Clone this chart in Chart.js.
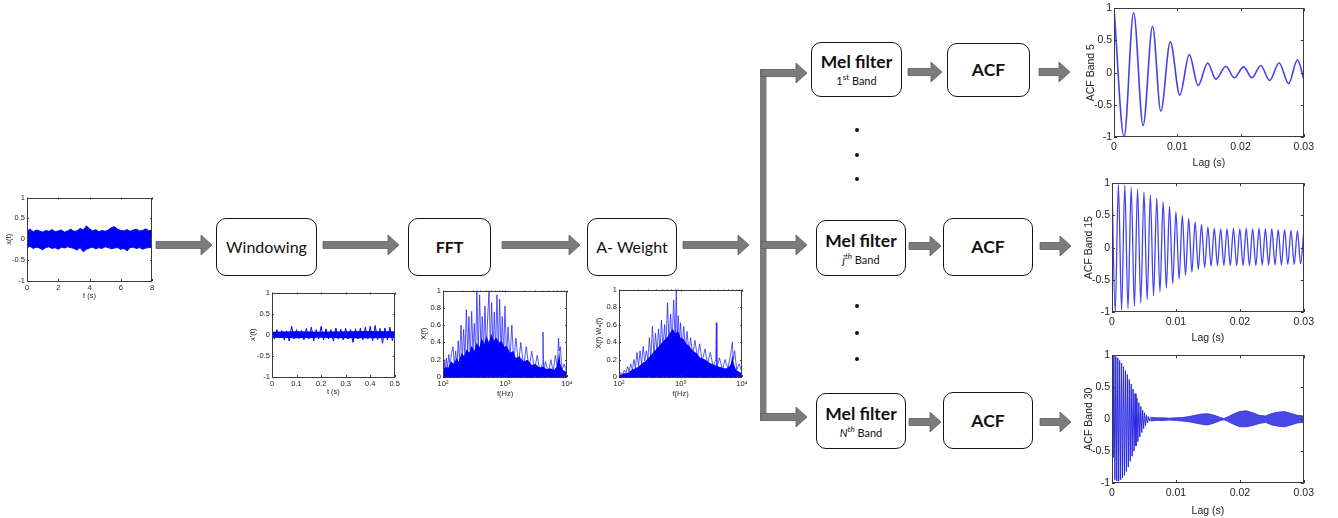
<!DOCTYPE html>
<html>
<head>
<meta charset="utf-8">
<script src="https://cdn.jsdelivr.net/npm/chart.js@4.4.0/dist/chart.umd.min.js"></script>
<style>
  body { margin: 0; width: 1338px; height: 518px; background: #fff; position: relative; overflow: hidden; }
  canvas { position: absolute; }
  svg { position: absolute; left: 0; top: 0; }
  .box {
    position: absolute; box-sizing: border-box; background: #fff;
    border: 1.6px solid #151515; border-radius: 10px;
    display: flex; flex-direction: column; align-items: center; justify-content: center;
    font-family: Lato, "Open Sans", sans-serif; color: #111; font-size: 16px; line-height: 1.1;
  }
  .box b { font-size: 17.5px; }
  .box small { font-size: 11px; margin-top: 2px; }
  .box sup { font-size: 8px; }
</style>
</head>
<body>

<svg id="diagram" width="1338" height="518"></svg>

<div class="box" style="left:216px;top:218px;width:101px;height:58px">Windowing</div>
<div class="box" style="left:408px;top:218px;width:83px;height:58px"><b style="font-size:16px">FFT</b></div>
<div class="box" style="left:587px;top:218px;width:90px;height:58px">A- Weight</div>

<div class="box" style="left:811px;top:42px;width:91px;height:55px"><b>Mel filter</b><small>1<sup>st</sup> Band</small></div>
<div class="box" style="left:947px;top:43px;width:83px;height:54px"><b>ACF</b></div>
<div class="box" style="left:816px;top:220px;width:90px;height:56px"><b>Mel filter</b><small><i>j</i><sup><i>th</i></sup> Band</small></div>
<div class="box" style="left:943px;top:218px;width:90px;height:58px"><b>ACF</b></div>
<div class="box" style="left:816px;top:393px;width:90px;height:56px"><b>Mel filter</b><small><i>N</i><sup><i>th</i></sup> Band</small></div>
<div class="box" style="left:943px;top:392px;width:90px;height:57px"><b>ACF</b></div>

<script>
// ---- input signal x(t), 0..8 s (band envelope) ----
const inputT = [0,0.2,0.4,0.6,0.8,1,1.2,1.4,1.6,1.8,2,2.2,2.4,2.6,2.8,3,3.2,3.4,3.6,3.8,4,
                4.2,4.4,4.6,4.8,5,5.2,5.4,5.6,5.8,6,6.2,6.4,6.6,6.8,7,7.2,7.4,7.6,7.8,8];
const inputUpper = [0.2,0.24,0.18,0.22,0.2,0.17,0.21,0.19,0.23,0.18,0.2,0.22,0.17,0.2,0.24,0.19,0.2,0.26,0.22,0.32,0.25,
                    0.2,0.23,0.18,0.21,0.19,0.22,0.28,0.3,0.24,0.21,0.2,0.23,0.19,0.22,0.24,0.2,0.21,0.25,0.2,0.22];
const inputLower = [-0.2,-0.17,-0.22,-0.19,-0.21,-0.25,-0.2,-0.18,-0.22,-0.2,-0.24,-0.19,-0.21,-0.18,-0.2,-0.22,-0.26,-0.2,-0.3,-0.24,-0.21,
                    -0.19,-0.23,-0.2,-0.22,-0.18,-0.2,-0.23,-0.21,-0.2,-0.24,-0.22,-0.28,-0.2,-0.19,-0.22,-0.2,-0.24,-0.21,-0.2,-0.19];

// ---- windowed frame x'(t), 0..0.5 s ----
const winT = [0,0.01,0.02,0.03,0.04,0.05,0.06,0.07,0.08,0.09,0.1,0.11,0.12,0.13,0.14,0.15,0.16,0.17,0.18,0.19,0.2,
              0.21,0.22,0.23,0.24,0.25,0.26,0.27,0.28,0.29,0.3,0.31,0.32,0.33,0.34,0.35,0.36,0.37,0.38,0.39,0.4,
              0.41,0.42,0.43,0.44,0.45,0.46,0.47,0.48,0.49,0.5];
const winVal = [0.08,-0.1,0.12,-0.08,0.1,-0.12,0.09,-0.15,0.2,-0.1,0.12,-0.09,0.1,-0.12,0.15,-0.1,0.18,-0.14,0.12,-0.1,
                0.2,-0.12,0.14,-0.1,0.12,-0.15,0.16,-0.1,0.13,-0.12,0.15,-0.1,0.12,-0.18,0.14,-0.1,0.16,-0.12,0.18,-0.1,
                0.2,-0.14,0.22,-0.12,0.15,-0.2,0.16,-0.12,0.18,-0.14,0.12];
const winCoreT = [0,0.1,0.2,0.3,0.4,0.5];
const winCoreUpper = [0.07,0.08,0.07,0.08,0.09,0.08];
const winCoreLower = [-0.07,-0.08,-0.07,-0.08,-0.08,-0.07];

// ---- spectrum X(f) ----
const fftFreq = [100,104,108,113,118,124,130,137,145,152,160,168,176,185,195,205,215,226,238,250,262,275,290,305,320,336,
                 352,370,390,410,430,452,475,500,525,552,580,610,640,672,706,742,780,820,862,905,950,1000,1060,1120,1200,
                 1290,1380,1500,1650,1800,2000,2200,2450,2700,3000,3300,3700,4000,4100,4200,4500,5000,5500,6000,6500,7000,
                 7300,7500,7800,8300,9000,10000];
const fftAmp = [0.1,0.2,0.08,0.22,0.1,0.26,0.12,0.28,0.35,0.14,0.3,0.12,0.42,0.18,0.6,0.2,0.55,0.22,0.78,0.25,0.7,0.2,
                0.76,0.3,0.62,0.25,1,0.3,0.95,0.28,0.7,0.32,0.82,0.3,0.68,1,0.35,0.86,0.3,0.75,0.32,0.95,0.3,0.9,0.28,0.7,
                0.25,0.82,0.22,0.58,0.2,0.6,0.18,0.45,0.15,0.4,0.12,0.35,0.1,0.3,0.08,0.25,0.06,0.15,0.52,0.05,0.18,0.05,
                0.2,0.06,0.25,0.1,0.45,0.3,0.35,0.08,0.15,0.05];
const fftCoreFreq = [100,110,120,135,150,165,180,200,220,240,265,290,320,350,385,420,460,500,550,600,660,720,800,880,970,
                     1070,1200,1350,1500,1700,2000,2300,2700,3100,3600,4100,4700,5400,6200,6800,7200,7500,7800,8500,9300,10000];
const fftCoreAmp = [0.08,0.12,0.1,0.18,0.15,0.22,0.18,0.28,0.24,0.32,0.28,0.36,0.3,0.4,0.34,0.45,0.38,0.48,0.4,0.5,0.42,
                    0.46,0.4,0.42,0.35,0.36,0.28,0.3,0.22,0.24,0.18,0.2,0.14,0.15,0.11,0.12,0.09,0.1,0.08,0.12,0.2,0.3,
                    0.15,0.08,0.07,0.05];

// ---- A-weighted spectrum X(f) W_A(f) ----
const awFreq = [100,108,115,122,130,138,146,155,165,175,185,196,208,220,233,247,262,278,295,312,330,350,370,392,415,440,
                465,490,520,550,580,615,650,690,730,775,820,855,880,920,960,1000,1060,1130,1200,1280,1370,1460,1580,1720,
                1880,2050,2250,2500,2750,3050,3400,3750,3830,3900,4300,4800,5300,5900,6500,6960,7200,7600,8200,9000,10000];
const awAmp = [0.02,0.05,0.03,0.08,0.05,0.12,0.06,0.15,0.08,0.2,0.1,0.28,0.12,0.3,0.15,0.35,0.18,0.3,0.2,0.45,0.22,0.58,
               0.25,0.5,0.28,0.55,0.3,0.65,0.32,0.6,0.35,0.85,0.38,0.72,0.4,0.88,0.4,1,0.42,0.7,0.38,0.62,0.35,0.58,0.3,
               0.52,0.28,0.45,0.25,0.42,0.22,0.38,0.18,0.32,0.15,0.28,0.12,0.2,0.62,0.1,0.22,0.08,0.2,0.1,0.25,0.4,0.2,0.3,
               0.08,0.15,0.05];
const awCoreFreq = [100,120,140,160,185,210,240,270,300,340,380,430,480,540,600,670,750,830,920,1000,1100,1250,1400,1600,
                    1850,2100,2500,3000,3500,4200,5000,5800,6500,7000,7400,8000,9000,10000];
const awCoreAmp = [0.02,0.04,0.05,0.08,0.1,0.12,0.16,0.18,0.22,0.26,0.3,0.34,0.38,0.42,0.45,0.5,0.55,0.5,0.52,0.45,0.44,
                   0.38,0.35,0.3,0.27,0.22,0.2,0.16,0.14,0.12,0.1,0.1,0.14,0.25,0.15,0.08,0.06,0.04];

// ---- ACF, band 5 (extrema) ----
const band5Lag = [0,0.0016,0.0031,0.0046,0.0061,0.0074,0.0089,0.0104,0.0119,0.0133,0.0148,0.0161,0.0177,0.019,0.0205,
                  0.0218,0.0232,0.0246,0.0261,0.0276,0.029,0.03];
const band5Acf = [1,-1,0.93,-0.82,0.72,-0.6,0.48,-0.35,0.28,-0.2,0.15,-0.1,0.1,-0.08,0.09,-0.08,0.11,-0.12,0.15,-0.17,0.2,-0.1];

// ---- ACF, band 15 (extrema) ----
const band15Lag = [0,0.0005,0.001,0.0015,0.002,0.0025,0.003,0.0035,0.004,0.0045,0.005,0.0055,0.006,0.0065,0.007,0.0075,
                   0.008,0.0085,0.009,0.0095,0.01,0.0105,0.011,0.0115,0.012,0.0125,0.013,0.0135,0.014,0.0145,0.015,0.0155,
                   0.016,0.0165,0.017,0.0175,0.018,0.0185,0.019,0.0195,0.02,0.0205,0.021,0.0215,0.022,0.0225,0.023,0.0235,
                   0.024,0.0245,0.025,0.0255,0.026,0.0265,0.027,0.0275,0.028,0.0285,0.029,0.0295,0.03];
const band15Acf = [1,-1,0.98,-0.97,0.97,-0.95,0.94,-0.91,0.91,-0.86,0.87,-0.81,0.82,-0.75,0.77,-0.69,0.71,-0.63,0.64,-0.56,
                   0.56,-0.49,0.5,-0.43,0.45,-0.38,0.4,-0.34,0.36,-0.31,0.32,-0.29,0.3,-0.28,0.29,-0.28,0.29,-0.28,0.3,-0.28,
                   0.29,-0.28,0.3,-0.28,0.29,-0.28,0.3,-0.27,0.29,-0.27,0.29,-0.27,0.28,-0.27,0.28,-0.26,0.27,-0.26,0.26,-0.25,0.25];

// ---- ACF, band 30: fast decaying head + beating tail envelope ----
const band30HeadLag = [0,0.00015,0.0003,0.00045,0.0006,0.00075,0.0009,0.00105,0.0012,0.00135,0.0015,0.00165,0.0018,
                       0.00195,0.0021,0.00225,0.0024,0.00255,0.0027,0.00285,0.003,0.00315,0.0033,0.00345,0.0036,0.00375,
                       0.0039,0.00405,0.0042,0.00435,0.0045,0.00465,0.0048,0.00495,0.0051,0.00525,0.0054,0.00555,0.0057,
                       0.00585,0.006];
const band30HeadAcf = [1,-0.6,1,-0.95,0.98,-0.97,0.96,-0.97,0.92,-0.95,0.88,-0.92,0.82,-0.88,0.76,-0.82,0.7,-0.75,0.62,-0.66,
                       0.55,-0.58,0.47,-0.5,0.4,-0.42,0.33,-0.35,0.26,-0.28,0.2,-0.21,0.14,-0.15,0.1,-0.1,0.06,-0.06,0.04,-0.03,0.02];
const band30TailLag = [0.006,0.007,0.008,0.009,0.01,0.011,0.012,0.013,0.014,0.015,0.016,0.017,0.0175,0.018,0.019,0.02,
                       0.021,0.022,0.023,0.024,0.025,0.026,0.027,0.028,0.029,0.03];
const band30TailUpper = [0.03,0.02,0.02,0.015,0.02,0.025,0.04,0.06,0.08,0.085,0.06,0.025,0.01,0.03,0.08,0.12,0.13,0.1,
                         0.06,0.05,0.09,0.11,0.12,0.09,0.06,0.05];
const band30TailLower = [-0.03,-0.02,-0.02,-0.015,-0.02,-0.03,-0.04,-0.06,-0.08,-0.09,-0.06,-0.02,-0.01,-0.03,-0.08,-0.12,
                         -0.12,-0.1,-0.07,-0.05,-0.09,-0.11,-0.12,-0.09,-0.06,-0.05];

// log axis tick marks (labels only on decades)
const logTicks = [100,200,300,400,500,600,700,800,900,1000,2000,3000,4000,5000,6000,7000,8000,9000,10000];
const logLabels = { 100: '10\u00b2', 1000: '10\u00b3', 10000: '10\u2074' };

const BLUE = '#0000ff';
const ACF_BLUE = 'rgb(66,66,236)';
const FONT = 'Liberation Sans, Arial, sans-serif';

function pts(xs, ys) {
    return xs.map((x, i) => ({ x: x, y: ys[i] }));
}

// matlab style box with inward ticks on all sides
const framePlugin = {
    id: 'frame',
    afterDraw(chart) {
        const ctx = chart.ctx;
        const a = chart.chartArea;
        const len = chart.options.plugins.frame.tick;
        const sx = chart.scales.x, sy = chart.scales.y;
        ctx.save();
        ctx.strokeStyle = '#3a3a3a';
        ctx.lineWidth = 1;
        ctx.strokeRect(Math.round(a.left) + 0.5, Math.round(a.top) + 0.5, Math.round(a.width) - 1, Math.round(a.height) - 1);
        ctx.beginPath();
        sx.ticks.forEach(t => {
            const px = Math.round(sx.getPixelForValue(t.value)) + 0.5;
            const l = t.label === '' ? len * 0.6 : len;
            ctx.moveTo(px, a.bottom); ctx.lineTo(px, a.bottom - l);
            ctx.moveTo(px, a.top); ctx.lineTo(px, a.top + l);
        });
        sy.ticks.forEach(t => {
            const py = Math.round(sy.getPixelForValue(t.value)) + 0.5;
            ctx.moveTo(a.left, py); ctx.lineTo(a.left + len, py);
            ctx.moveTo(a.right, py); ctx.lineTo(a.right - len, py);
        });
        ctx.stroke();
        ctx.restore();
    }
};

// plain matlab-like numbers: 1, 0.5, 0, -0.5 ...
const plainNum = v => String(Math.round(v * 1000) / 1000);

function axis(size, title, opts) {
    const font = { family: FONT, size: size };
    return Object.assign({
        grid: { display: false, drawTicks: false },
        border: { display: false },
        ticks: Object.assign({ font: font, color: '#222', padding: 2, maxRotation: 0, autoSkip: false, callback: plainNum }, opts.ticks || {}),
        title: { display: true, text: title, font: font, color: '#222', padding: opts.titlePad || { top: 1, bottom: 0 } }
    }, opts.scale);
}

function makePlot(g, datasets, xa, ya) {
    const canvas = document.createElement('canvas');
    const padT = g.padT || 6, padR = g.padR || 10;
    canvas.width = g.yw + (g.r - g.l) + padR;
    canvas.height = padT + (g.b - g.t) + g.xh;
    canvas.style.left = (g.l - g.yw) + 'px';
    canvas.style.top = (g.t - padT) + 'px';
    document.body.appendChild(canvas);

    xa.afterFit = s => { s.height = g.xh; };
    ya.afterFit = s => { s.width = g.yw; };

    return new Chart(canvas, {
        type: 'line',
        data: { datasets: datasets },
        options: {
            responsive: false,
            animation: false,
            layout: { padding: { top: padT, right: padR, left: 0, bottom: 0 } },
            elements: { point: { radius: 0 }, line: { tension: 0 } },
            plugins: { legend: { display: false }, tooltip: { enabled: false }, frame: { tick: g.tick || 2 } },
            scales: { x: xa, y: ya }
        },
        plugins: [framePlugin]
    });
}

const SMALL = 7.5;

// ---------- input signal ----------
makePlot({ l: 27, t: 197, r: 152, b: 281, yw: 27, xh: 19, padR: 6 },
    [
        { data: pts(inputT, inputUpper), borderColor: BLUE, borderWidth: 1, fill: false },
        { data: pts(inputT, inputLower), borderColor: BLUE, borderWidth: 1, fill: '-1', backgroundColor: BLUE }
    ],
    axis(SMALL, 't (s)', { scale: { type: 'linear', min: 0, max: 8 }, ticks: { stepSize: 2 } }),
    axis(SMALL, 'x(t)', { scale: { min: -1, max: 1 }, ticks: { stepSize: 0.5 }, titlePad: { top: 4, bottom: 0 } })
);

// ---------- windowed frame ----------
makePlot({ l: 272, t: 292, r: 395, b: 377, yw: 28, xh: 19, padR: 7 },
    [
        { data: pts(winCoreT, winCoreUpper), borderColor: BLUE, borderWidth: 0, fill: false },
        { data: pts(winCoreT, winCoreLower), borderColor: BLUE, borderWidth: 0, fill: '-1', backgroundColor: BLUE },
        { data: pts(winT, winVal), borderColor: BLUE, borderWidth: 1, fill: false }
    ],
    axis(SMALL, 't (s)', { scale: { type: 'linear', min: 0, max: 0.5 }, ticks: { stepSize: 0.1 } }),
    axis(SMALL, "x'(t)", { scale: { min: -1, max: 1 }, ticks: { stepSize: 0.5 }, titlePad: { top: 4, bottom: 0 } })
);

function logX(title) {
    const a = axis(SMALL, title, {
        scale: { type: 'logarithmic', min: 100, max: 10000 },
        ticks: { callback: v => logLabels[v] || '' }
    });
    a.afterBuildTicks = s => { s.ticks = logTicks.map(v => ({ value: v })); };
    return a;
}

// ---------- FFT ----------
makePlot({ l: 443, t: 290, r: 567, b: 377, yw: 26, xh: 21, padR: 8 },
    [
        { data: pts(fftCoreFreq, fftCoreAmp), borderWidth: 0, fill: 'origin', backgroundColor: BLUE },
        { data: pts(fftFreq, fftAmp), borderColor: 'rgba(30,30,255,0.75)', borderWidth: 1, fill: false }
    ],
    logX('f(Hz)'),
    axis(SMALL, 'X(f)', { scale: { min: 0, max: 1 }, ticks: { stepSize: 0.2 }, titlePad: { top: 2, bottom: 0 } })
);

// ---------- A-weighted ----------
makePlot({ l: 619, t: 289, r: 742, b: 377, yw: 26, xh: 21, padR: 8 },
    [
        { data: pts(awCoreFreq, awCoreAmp), borderWidth: 0, fill: 'origin', backgroundColor: BLUE },
        { data: pts(awFreq, awAmp), borderColor: 'rgba(30,30,255,0.75)', borderWidth: 1, fill: false }
    ],
    logX('f(Hz)'),
    axis(SMALL, 'X(f) W\u2090(f)', { scale: { min: 0, max: 1 }, ticks: { stepSize: 0.2 }, titlePad: { top: 1, bottom: 0 } })
);

// ---------- ACF plots ----------
function lagX() {
    return axis(10.5, 'Lag (s)', { scale: { type: 'linear', min: 0, max: 0.03 }, ticks: { stepSize: 0.01, padding: 4 }, titlePad: { top: 2, bottom: 0 } });
}
function acfY(title) {
    return axis(10.5, title, { scale: { min: -1, max: 1 }, ticks: { stepSize: 0.5 }, titlePad: { top: 2, bottom: 0 } });
}

makePlot({ l: 1114, t: 7, r: 1304, b: 137, yw: 31, xh: 32, padR: 14, padT: 7, tick: 3 },
    [{ data: pts(band5Lag, band5Acf), borderColor: ACF_BLUE, borderWidth: 1.6, cubicInterpolationMode: 'monotone', fill: false }],
    lagX(), acfY('ACF Band 5'));

makePlot({ l: 1112, t: 182, r: 1304, b: 312, yw: 31, xh: 32, padR: 14, padT: 7, tick: 3 },
    [{ data: pts(band15Lag, band15Acf), borderColor: ACF_BLUE, borderWidth: 1.3, cubicInterpolationMode: 'monotone', fill: false }],
    lagX(), acfY('ACF Band 15'));

makePlot({ l: 1112, t: 354, r: 1304, b: 483, yw: 31, xh: 34, padR: 14, padT: 7, tick: 3 },
    [
        { data: pts(band30HeadLag, band30HeadAcf), borderColor: 'rgb(40,40,225)', borderWidth: 1, fill: false },
        { data: pts(band30TailLag, band30TailUpper), borderColor: 'rgb(40,40,225)', borderWidth: 0.8, fill: false },
        { data: pts(band30TailLag, band30TailLower), borderColor: 'rgb(40,40,225)', borderWidth: 0.8, fill: '-1', backgroundColor: 'rgba(40,40,225,0.85)' }
    ],
    lagX(), acfY('ACF Band 30'));

// ---------- block diagram arrows ----------
const svg = document.getElementById('diagram');
const NS = 'http://www.w3.org/2000/svg';
const ARROW_FILL = '#7b7b7b';

function arrow(x1, x2, y) {
    const h = 3.5, H = 10, hl = 11;
    const p = document.createElementNS(NS, 'polygon');
    p.setAttribute('points', [
        [x1, y - h], [x2 - hl, y - h], [x2 - hl, y - H], [x2, y],
        [x2 - hl, y + H], [x2 - hl, y + h], [x1, y + h]
    ].map(q => q.join(',')).join(' '));
    p.setAttribute('fill', ARROW_FILL);
    p.setAttribute('stroke', '#5e5e5e');
    p.setAttribute('stroke-width', '0.8');
    svg.appendChild(p);
}

[[156, 212, 245], [323, 399, 245], [502, 580, 245], [683, 749, 245],
 [908, 942, 72], [1039, 1070, 72],
 [909, 941, 246], [1040, 1071, 246],
 [909, 941, 422], [1040, 1071, 422]].forEach(a => arrow(a[0], a[1], a[2]));

// branch to the three mel bands
const bar = document.createElementNS(NS, 'rect');
bar.setAttribute('x', 760); bar.setAttribute('y', 69);
bar.setAttribute('width', 6.5); bar.setAttribute('height', 352);
bar.setAttribute('fill', ARROW_FILL);
svg.appendChild(bar);
[[761, 807, 73], [761, 807, 245], [761, 807, 417]].forEach(a => arrow(a[0], a[1], a[2]));

// vertical ellipsis dots
[130, 155, 179, 306, 333, 359].forEach(y => {
    const c = document.createElementNS(NS, 'circle');
    c.setAttribute('cx', 857); c.setAttribute('cy', y); c.setAttribute('r', 2);
    c.setAttribute('fill', '#111');
    svg.appendChild(c);
});
</script>
</body>
</html>
